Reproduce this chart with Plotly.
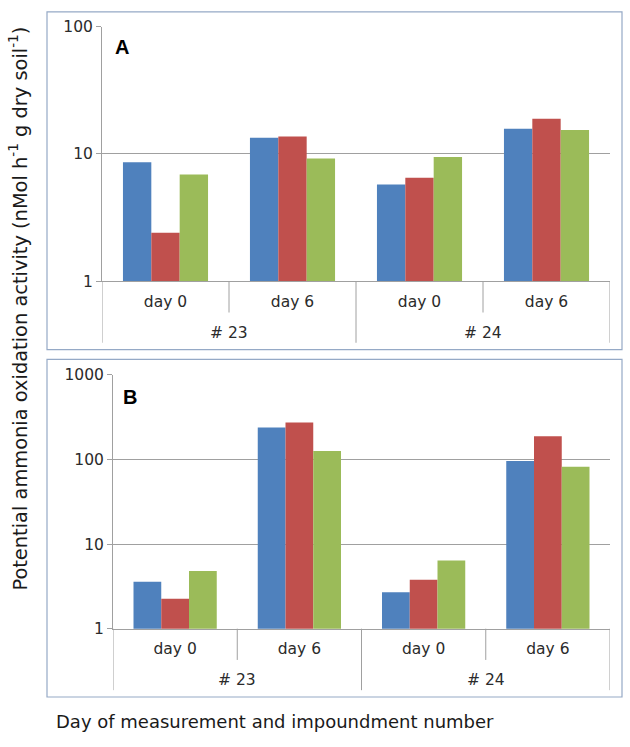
import plotly.graph_objects as go

# ---- data ----
groups = ["# 23", "# 23", "# 24", "# 24"]
days = ["day 0", "day 6", "day 0", "day 6"]
series_names = ["Series 1", "Series 2", "Series 3"]
colors = ["#4F81BD", "#C0504D", "#9BBB59"]

panel_a = [
    [8.6, 13.4, 5.75, 15.8],
    [2.4, 13.7, 6.5, 18.9],
    [6.9, 9.2, 9.45, 15.4],
]
panel_b = [
    [3.6, 240, 2.7, 96],
    [2.26, 274, 3.8, 189],
    [4.8, 126, 6.4, 82],
]
ticks_a = [1, 10, 100]
ticks_b = [1, 10, 100, 1000]

W, H = 630, 747
def px_x(p):
    return p / W
def px_y(p):
    return 1 - p / H

xpos = list(range(len(days)))

fig = go.Figure()
for i in range(3):
    fig.add_trace(go.Bar(x=xpos, y=panel_a[i], name=series_names[i],
                         marker=dict(color=colors[i], line=dict(width=0)),
                         xaxis="x", yaxis="y", showlegend=False))
    fig.add_trace(go.Bar(x=xpos, y=panel_b[i], name=series_names[i],
                         marker=dict(color=colors[i], line=dict(width=0)),
                         xaxis="x2", yaxis="y2", showlegend=False))

grid = "#a0a0a0"
tickfont = dict(family="DejaVu Sans", size=15.5, color="#2b2b2b")

xcommon = dict(type="linear", range=[-0.5, len(days) - 0.5],
               tickvals=xpos, ticktext=days, ticks="", ticklabelstandoff=6,
               showline=True, linecolor=grid, linewidth=1,
               tickfont=tickfont, showgrid=False, zeroline=False)
ycommon = dict(type="log", showline=True, linecolor=grid, linewidth=1,
               ticks="outside", ticklen=5, tickcolor=grid,
               showgrid=True, gridcolor=grid, gridwidth=1,
               tickfont=tickfont, zeroline=False)

# panel geometry (pixels)
A_axis_y, A_top = 279, 18
B_axis_y, B_top = 635, 375

fig.update_layout(
    width=W, height=H,
    margin=dict(l=0, r=0, t=0, b=0),
    paper_bgcolor="white", plot_bgcolor="white",
    barmode="group", bargap=0.33, bargroupgap=0,
    xaxis=dict(domain=[px_x(102), px_x(610)], anchor="y", **xcommon),
    yaxis=dict(domain=[px_y(A_axis_y), px_y(A_top)], anchor="x", range=[0, 2],
               tickvals=ticks_a, ticktext=[str(t) for t in ticks_a], **ycommon),
    xaxis2=dict(domain=[px_x(113), px_x(610)], anchor="y2", **xcommon),
    yaxis2=dict(domain=[px_y(B_axis_y), px_y(B_top)], anchor="x2", range=[0, 3],
                tickvals=ticks_b, ticktext=[str(t) for t in ticks_b], **ycommon),
)

# group boundaries and group centers computed from the category lists
bounds_long = [-0.5]
bounds_short = []
centers = []
start = 0
for k in range(1, len(groups) + 1):
    if k == len(groups) or groups[k] != groups[start]:
        bounds_long.append(k - 0.5)
        centers.append(((start + k - 1) / 2, groups[start]))
        for j in range(start + 1, k):
            bounds_short.append(j - 0.5)
        start = k

for xref, axis_y in (("x", A_axis_y), ("x2", B_axis_y)):
    for b in bounds_short:
        fig.add_shape(type="line", xref=xref, yref="paper", x0=b, x1=b,
                      y0=px_y(axis_y), y1=px_y(axis_y + 32),
                      line=dict(color=grid, width=1))
    for b in bounds_long:
        fig.add_shape(type="line", xref=xref, yref="paper", x0=b, x1=b,
                      y0=px_y(axis_y), y1=px_y(axis_y + 63),
                      line=dict(color=grid, width=1))
    for cx, label in centers:
        fig.add_annotation(text=label, xref=xref, yref="paper", x=cx, y=px_y(axis_y + 53),
                           xanchor="center", yanchor="middle", showarrow=False,
                           font=tickfont)

border = "#95a9c6"
fig.add_shape(type="rect", xref="paper", yref="paper",
              x0=px_x(47), x1=px_x(622), y0=px_y(349), y1=px_y(3),
              line=dict(color=border, width=1.2), fillcolor="rgba(0,0,0,0)", layer="below")
fig.add_shape(type="rect", xref="paper", yref="paper",
              x0=px_x(47), x1=px_x(622), y0=px_y(705), y1=px_y(359),
              line=dict(color=border, width=1.2), fillcolor="rgba(0,0,0,0)", layer="below")

fig.add_annotation(text="<b>A</b>", xref="paper", yref="paper", x=px_x(113), y=px_y(39),
                   xanchor="left", yanchor="middle", showarrow=False,
                   font=dict(family="Liberation Sans", size=20, color="black"))
fig.add_annotation(text="<b>B</b>", xref="paper", yref="paper", x=px_x(121), y=px_y(398),
                   xanchor="left", yanchor="middle", showarrow=False,
                   font=dict(family="Liberation Sans", size=20, color="black"))

fig.add_annotation(text="Potential ammonia oxidation activity (nMol h<sup>-1</sup> g dry soil<sup>-1</sup>)",
                   xref="paper", yref="paper", x=px_x(18), y=px_y(307), textangle=-90,
                   xanchor="center", yanchor="middle", showarrow=False,
                   font=dict(family="DejaVu Sans", size=19.4, color="#1a1a1a"))
fig.add_annotation(text="Day of measurement and impoundment number",
                   xref="paper", yref="paper", x=px_x(275), y=px_y(730),
                   xanchor="center", yanchor="middle", showarrow=False,
                   font=dict(family="DejaVu Sans", size=18, color="#1a1a1a"))

post = (
    "document.documentElement.style.margin='0';"
    "document.documentElement.style.overflow='hidden';"
    "document.body.style.margin='0';"
    "document.body.style.overflow='hidden';"
    "var d=document.getElementsByClassName('plotly-graph-div')[0];"
    "d.style.position='fixed';d.style.top='0px';d.style.left='0px';"
)
fig.write_html("out.html", config={"displayModeBar": False}, post_script=post)
